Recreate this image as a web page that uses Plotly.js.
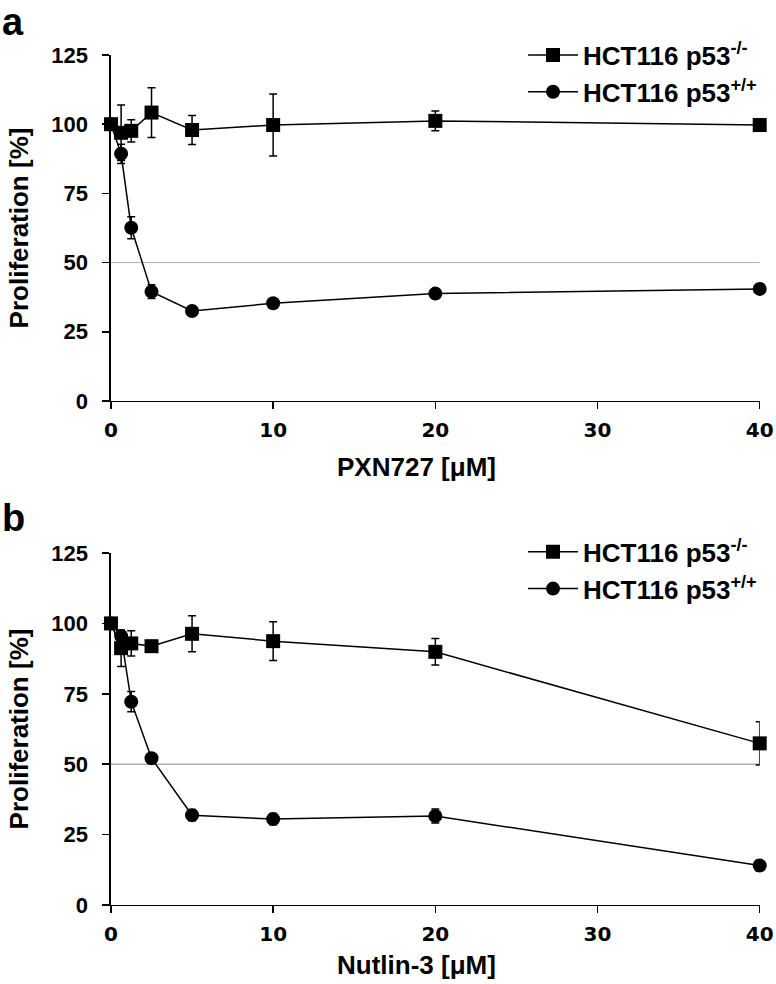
<!DOCTYPE html>
<html>
<head>
<meta charset="utf-8">
<script src="https://cdn.plot.ly/plotly-3.0.1.min.js"></script>
<style>
  html, body { margin: 0; padding: 0; background: #fff; }
  #chart { width: 776px; height: 984px; }
</style>
</head>
<body>
<div id="chart"></div>
<script>
// concentrations (µM), shared by both panels
var conc = [0, 0.625, 1.25, 2.5, 5, 10, 20, 40];

// panel a: PXN727
var pxnKO = [100, 96.9, 97.6, 104.2, 97.9, 99.7, 101.2, 99.7];
var pxnKOerr = [0, 10, 4, 9, 5.2, 11.2, 3.6, 0.8];
var pxnWT = [100, 89.3, 62.6, 39.5, 32.5, 35.3, 38.8, 40.5];
var pxnWTerr = [0, 3.5, 4, 2.5, 1, 1, 1, 1];

// panel b: Nutlin-3
var nutKO = [100, 91.2, 92.9, 91.9, 96.3, 93.7, 89.9, 57.4];
var nutKOerr = [0, 6.5, 4.5, 2, 6.4, 6.9, 4.7, 7.7];
var nutWT = [100, 95.5, 72.2, 52.1, 31.9, 30.5, 31.6, 14.0];
var nutWTerr = [0, 1.5, 3.6, 1.5, 2, 2, 2.5, 2];

var nameKO = 'HCT116 p53<sup>-/-</sup>';
var nameWT = 'HCT116 p53<sup>+/+</sup>';
var xTicks = [0, 10, 20, 30, 40];
var yTicks = [0, 25, 50, 75, 100, 125];

var font = 'Liberation Sans, Arial, sans-serif';
var tickFont = 'DejaVu Sans, Verdana, sans-serif';

function series(y, err, name, symbol, xa, ya, legend) {
    return {
        x: conc, y: y, name: name,
        xaxis: xa, yaxis: ya, legend: legend,
        type: 'scatter', mode: 'lines+markers', cliponaxis: false,
        line: {color: 'black', width: 1.5},
        marker: {symbol: symbol, size: 14, color: 'black'},
        error_y: {type: 'data', array: err, visible: true, color: 'black', thickness: 1.5, width: 4}
    };
}

var data = [
    series(pxnWT, pxnWTerr, nameWT, 'circle', 'x', 'y', 'legend'),
    series(pxnKO, pxnKOerr, nameKO, 'square', 'x', 'y', 'legend'),
    series(nutWT, nutWTerr, nameWT, 'circle', 'x2', 'y2', 'legend2'),
    series(nutKO, nutKOerr, nameKO, 'square', 'x2', 'y2', 'legend2')
];

function xAxis(anchor) {
    return {
        domain: [0.143, 0.979], range: [0, 40], anchor: anchor,
        tickvals: xTicks, ticks: 'outside', ticklen: 7, tickwidth: 1.5, tickcolor: 'black',
        ticklabelstandoff: 4,
        showline: true, linecolor: 'black', linewidth: 1.5,
        showgrid: false, zeroline: false,
        tickfont: {family: tickFont, size: 20, color: 'black', weight: 'bold'}
    };
}
function yAxis(domain, anchor) {
    return {
        domain: domain, range: [0, 125], anchor: anchor,
        tickvals: yTicks, ticks: 'outside', ticklen: 7, tickwidth: 1.5, tickcolor: 'black',
        ticklabelstandoff: 10,
        showline: true, linecolor: 'black', linewidth: 1.5,
        showgrid: false, zeroline: false,
        tickfont: {family: font, size: 22, color: 'black', weight: 'bold'},
        title: {text: 'Proliferation [%]', font: {family: font, size: 26, color: 'black', weight: 'bold'}, standoff: 15}
    };
}

function legendBox(y) {
    return {
        x: 0.674, y: y, xanchor: 'left', yanchor: 'top',
        traceorder: 'reversed', bgcolor: 'rgba(0,0,0,0)', itemwidth: 50,
        font: {family: font, size: 26, color: 'black', weight: 'bold'}
    };
}

function label(text, x, y, size) {
    return {text: text, xref: 'paper', yref: 'paper', x: x, y: y, xanchor: 'center', yanchor: 'middle',
            showarrow: false, font: {family: font, size: size, color: 'black', weight: 'bold'}};
}

var layout = {
    width: 776, height: 984,
    margin: {l: 0, r: 0, t: 0, b: 0},
    paper_bgcolor: 'white', plot_bgcolor: 'white',
    showlegend: true,
    xaxis: xAxis('y'),
    yaxis: yAxis([0.5925, 0.9441], 'x'),
    xaxis2: xAxis('y2'),
    yaxis2: yAxis([0.0803, 0.438], 'x2'),
    legend: legendBox(0.968),
    legend2: legendBox(0.463),
    shapes: [
        {type: 'line', xref: 'x', yref: 'y', x0: 0, x1: 40, y0: 50, y1: 50, line: {color: '#b0b0b0', width: 1}, layer: 'below'},
        {type: 'line', xref: 'x2', yref: 'y2', x0: 0, x1: 40, y0: 50, y1: 50, line: {color: '#888888', width: 1}, layer: 'below'}
    ],
    annotations: [
        label('PXN727 [μM]', 416 / 776, 1 - 467 / 984, 26),
        label('Nutlin-3 [μM]', 416 / 776, 1 - 965 / 984, 26),
        label('a', 13 / 776, 1 - 22 / 984, 38),
        label('b', 13 / 776, 1 - 518 / 984, 38)
    ]
};

Plotly.newPlot('chart', data, layout, {displayModeBar: false, staticPlot: true});
</script>
</body>
</html>
